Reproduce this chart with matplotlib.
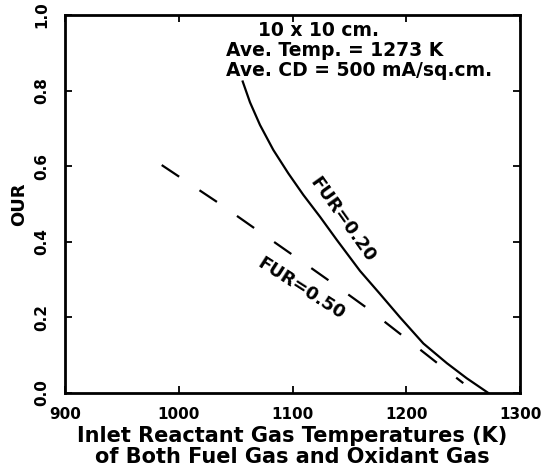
import matplotlib
matplotlib.use("Agg")
import matplotlib.pyplot as plt

# FUR = 0.20 (solid)
T_fur20 = [1056.2, 1062.6, 1071.4, 1083.1, 1096.3, 1109.5, 1124.2, 1138.9,
           1159.3, 1176.9, 1194.5, 1215.0, 1235.6, 1253.1, 1272.1]
OUR_fur20 = [0.824, 0.769, 0.709, 0.643, 0.581, 0.524, 0.466, 0.405,
             0.323, 0.262, 0.200, 0.131, 0.079, 0.039, 0.0]

# FUR = 0.50 (dashed)
T_fur50 = [985.0, 1034.8, 1067.9, 1100.2, 1133.6, 1165.8, 1196.9, 1227.3, 1250.1]
OUR_fur50 = [0.603, 0.503, 0.433, 0.365, 0.294, 0.224, 0.151, 0.079, 0.026]

xticks = [900, 1000, 1100, 1200, 1300]
yticks = [0.0, 0.2, 0.4, 0.6, 0.8, 1.0]

plt.rcParams["font.family"] = "DejaVu Sans"
plt.rcParams["lines.scale_dashes"] = False

fig = plt.figure(figsize=(5.44, 4.76), dpi=100)
ax = fig.add_axes([0.1195, 0.1744, 0.8365, 0.7941])

ax.plot(T_fur20, OUR_fur20, color="black", lw=1.6)
ax.plot(T_fur50, OUR_fur50, color="black", lw=1.6, dashes=(15.1, 17.6))

ax.set_xlim(900, 1300)
ax.set_ylim(0, 1.0)
ax.set_xticks(xticks)
ax.set_yticks(yticks)
ax.set_xticklabels([str(t) for t in xticks], fontsize=11, fontweight="bold")
ax.set_yticklabels(["%.1f" % t for t in yticks], fontsize=11, fontweight="bold",
                   rotation=90, va="center")
ax.tick_params(direction="in", length=5, width=1.3, top=True, right=True)
ax.tick_params(axis="x", pad=10)
ax.tick_params(axis="y", pad=11)
for s in ax.spines.values():
    s.set_linewidth(2)

ax.set_xlabel("Inlet Reactant Gas Temperatures (K)\nof Both Fuel Gas and Oxidant Gas",
              fontsize=15, fontweight="bold", linespacing=1.05, labelpad=3)
ax.set_ylabel("OUR", fontsize=13, fontweight="bold", labelpad=5)

ax.text(0.424, 0.960, "10 x 10 cm.", transform=ax.transAxes,
        fontsize=13.5, fontweight="bold", va="center", ha="left")
ax.text(0.354, 0.907, "Ave. Temp. = 1273 K", transform=ax.transAxes,
        fontsize=13.5, fontweight="bold", va="center", ha="left")
ax.text(0.354, 0.854, "Ave. CD = 500 mA/sq.cm.", transform=ax.transAxes,
        fontsize=13.5, fontweight="bold", va="center", ha="left")

ax.text(0.609, 0.458, "FUR=0.20", transform=ax.transAxes, rotation=-54.5,
        fontsize=13, fontweight="bold", ha="center", va="center",
        rotation_mode="anchor")
ax.text(0.520, 0.277, "FUR=0.50", transform=ax.transAxes, rotation=-32.6,
        fontsize=13, fontweight="bold", ha="center", va="center",
        rotation_mode="anchor")

fig.savefig("out.png", dpi=100)
